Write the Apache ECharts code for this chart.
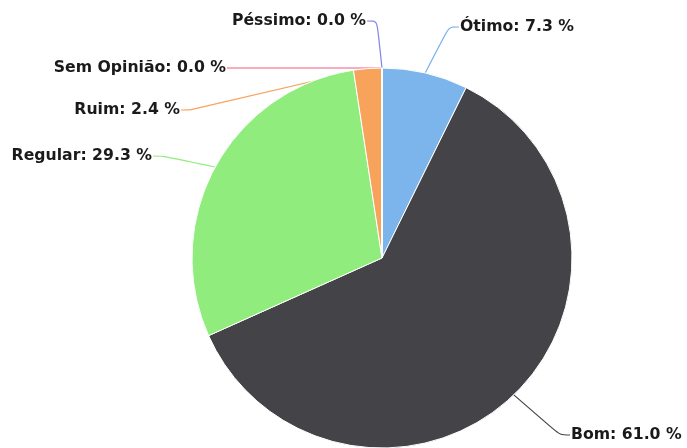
<!DOCTYPE html>
<html><head><meta charset="utf-8">
<script src="https://cdn.jsdelivr.net/npm/echarts@6/dist/echarts.min.js"></script>
<style>html,body{margin:0;padding:0;background:#fff}#c{width:687px;height:448px}</style>
</head><body><div id="c"></div>
<script>
const categories = ['Ótimo', 'Bom', 'Regular', 'Ruim', 'Péssimo', 'Sem Opinião'];
const values = [7.3, 61.0, 29.3, 2.4, 0.0, 0.0];
const colors = ['#7cb5ec', '#434348', '#90ed7d', '#f7a35c', '#8085e9', '#f15c80'];
// label anchor placement (layout only)
const labelPlace = [
  {x: 460, y: 27, align: 'left'},
  {x: 571, y: 435, align: 'left'},
  {x: 152, y: 156, align: 'right'},
  {x: 180, y: 110, align: 'right'},
  {x: 366, y: 21, align: 'right'},
  {x: 226, y: 68, align: 'right'}
];
const chart = echarts.init(document.getElementById('c'), null, {renderer: 'canvas'});
chart.setOption({
  animation: false,
  series: [{
    type: 'pie',
    center: [382, 258],
    radius: [0, 190],
    startAngle: 90,
    clockwise: true,
    minShowLabelAngle: 0,
    avoidLabelOverlap: false,
    stillShowZeroSum: true,
    itemStyle: {borderColor: '#fff', borderWidth: 1},
    label: {
      show: true,
      position: 'outside',
      formatter: p => p.name + ': ' + p.value.toFixed(1) + ' %',
      fontFamily: 'DejaVu Sans',
      fontWeight: 'bold',
      fontSize: 15.7,
      color: '#1a1a1a',
      textBorderColor: '#fff',
      textBorderWidth: 2
    },
    labelLine: {show: true, smooth: 0.3, length: 15, length2: 10, lineStyle: {width: 1.2}},
    labelLayout: function (params) {
      const p = labelPlace[params.dataIndex];
      return {x: p.x, y: p.y, align: p.align, verticalAlign: 'middle'};
    },
    data: categories.map((c, i) => ({
      name: c, value: values[i],
      itemStyle: {color: colors[i]},
      labelLine: {lineStyle: {color: colors[i]}}
    }))
  }]
});
</script></body></html>
